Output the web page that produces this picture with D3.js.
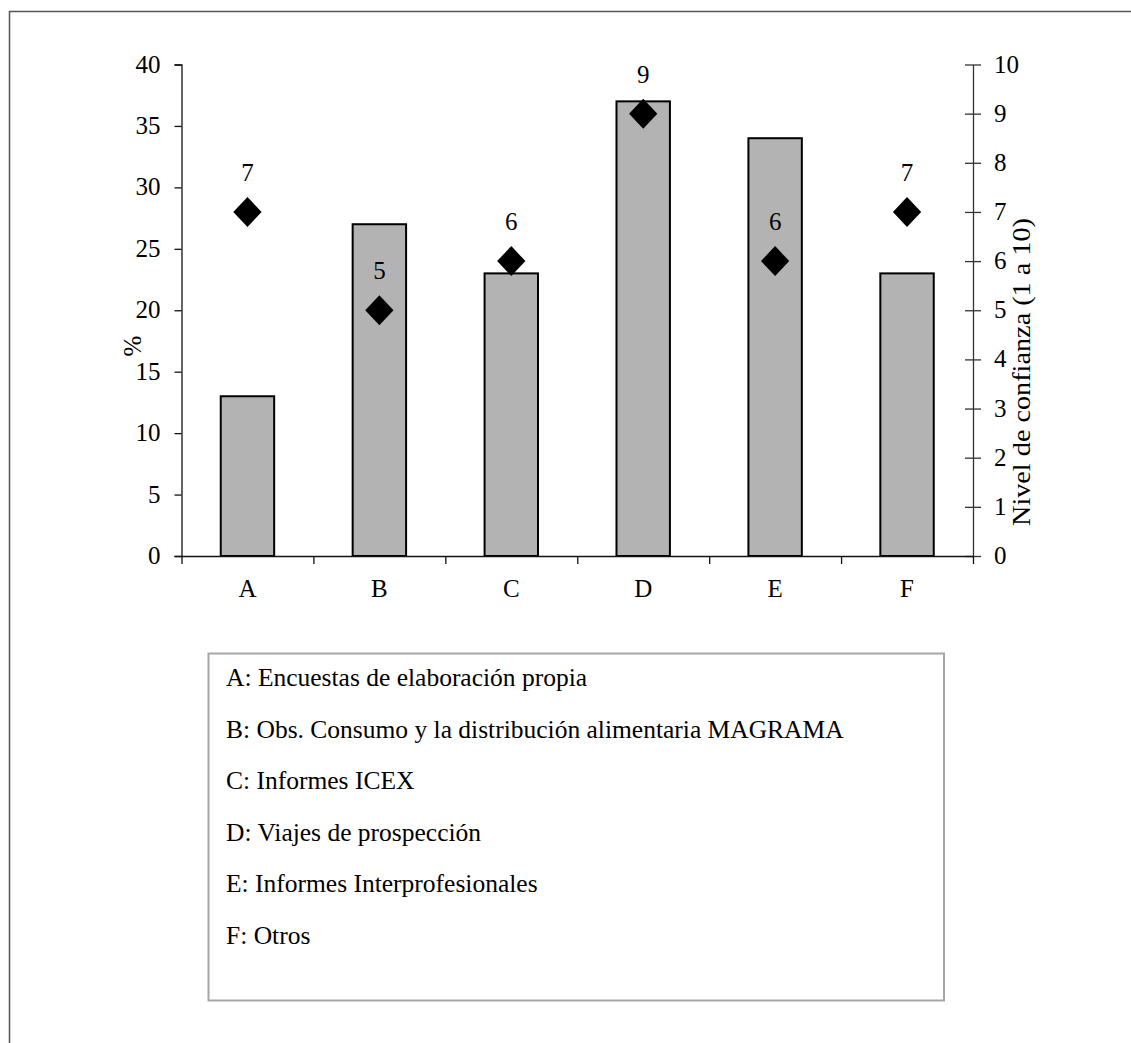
<!DOCTYPE html>
<html>
<head>
<meta charset="utf-8">
<script src="https://cdn.jsdelivr.net/npm/d3@7"></script>
<style>
  html, body { margin: 0; padding: 0; background: #fff; }
  svg { display: block; }
  svg text { font-family: 'Liberation Serif', 'Times New Roman', Times, 'DejaVu Serif', serif !important; fill: #000; }
</style>
</head>
<body>
<svg id="chart" width="1131" height="1043"></svg>
<script>
const categories = ["A", "B", "C", "D", "E", "F"];
const percentValues = [13, 27, 23, 37, 34, 23];
const confidenceValues = [7, 5, 6, 9, 6, 7];
const leftTicks = [0, 5, 10, 15, 20, 25, 30, 35, 40];
const rightTicks = [0, 1, 2, 3, 4, 5, 6, 7, 8, 9, 10];
const legendLines = [
  "A: Encuestas de elaboración propia",
  "B: Obs. Consumo y la distribución alimentaria MAGRAMA",
  "C: Informes ICEX",
  "D: Viajes de prospección",
  "E: Informes Interprofesionales",
  "F: Otros"
];
const leftTitle = "%";
const rightTitle = "Nivel de confianza (1 a 10)";

const svg = d3.select("#chart");
const FS = 25;
const FF = "'Liberation Serif', 'Times New Roman', Times, serif";

// outer frame (only top and left visible)
svg.append("rect").attr("x", 9.5).attr("y", 11.5).attr("width", 1200).attr("height", 1200)
  .attr("fill", "none").attr("stroke", "#555").attr("stroke-width", 1.5);

const plotL = 181.5, plotR = 973, plotT = 64.5, plotB = 556;

const x = d3.scaleBand().domain(categories).range([plotL, plotR]).padding(0);
const xb = d3.scaleLinear().domain([0, categories.length]).range([plotL, plotR]);
const yL = d3.scaleLinear().domain([0, 40]).range([plotB, plotT]);
const yR = d3.scaleLinear().domain([0, 10]).range([plotB, plotT]);

const barW = x.bandwidth() * 0.405;

// bars
svg.append("g").selectAll("rect").data(categories).join("rect")
  .attr("x", (d) => x(d) + x.bandwidth() / 2 - barW / 2)
  .attr("y", (d, i) => yL(percentValues[i]))
  .attr("width", barW)
  .attr("height", (d, i) => yL(0) - yL(percentValues[i]))
  .attr("fill", "#b3b3b3").attr("stroke", "#000").attr("stroke-width", 2);

// left axis
const gL = svg.append("g").attr("transform", `translate(${plotL},0)`)
  .call(d3.axisLeft(yL).tickValues(leftTicks).tickSize(7).tickPadding(14));
gL.attr("font-family", FF);
gL.select(".domain").attr("stroke", "#111").attr("stroke-width", 1.3);
gL.selectAll(".tick line").attr("stroke", "#111").attr("stroke-width", 1.3);
gL.selectAll(".tick text").attr("font-size", FS).attr("fill", "#000").attr("dy", "0.3em");

// right axis with crossing ticks
const gR = svg.append("g").attr("transform", `translate(${plotR},0)`)
  .call(d3.axisRight(yR).tickValues(rightTicks).tickSize(8).tickPadding(13).tickSizeOuter(0));
gR.attr("font-family", FF);
gR.select(".domain").attr("stroke", "#333").attr("stroke-width", 1.3);
gR.selectAll(".tick line").attr("x1", -8).attr("stroke", "#333").attr("stroke-width", 1.3);
gR.selectAll(".tick text").attr("font-size", FS).attr("fill", "#000").attr("dy", "0.3em");

// bottom axis (boundary ticks)
const gB = svg.append("g").attr("transform", `translate(0,${plotB})`)
  .call(d3.axisBottom(xb).tickValues(d3.range(categories.length + 1)).tickSize(8).tickSizeOuter(0).tickFormat(""));
gB.select(".domain").attr("stroke", "#111").attr("stroke-width", 1.3);
gB.selectAll(".tick line").attr("stroke", "#111").attr("stroke-width", 1.3);

// category labels
svg.append("g").attr("font-family", FF).selectAll("text").data(categories).join("text")
  .attr("x", (d) => x(d) + x.bandwidth() / 2)
  .attr("y", 597)
  .attr("text-anchor", "middle")
  .attr("font-size", FS)
  .text((d) => d);

// diamonds
const diamond = d3.symbol().type(d3.symbolSquare).size(400);
svg.append("g").selectAll("path").data(categories).join("path")
  .attr("d", diamond)
  .attr("transform", (d, i) => `translate(${x(d) + x.bandwidth() / 2},${yR(confidenceValues[i])}) scale(1,1.06) rotate(45)`)
  .attr("fill", "#000");

// diamond labels
svg.append("g").attr("font-family", FF).selectAll("text").data(categories).join("text")
  .attr("x", (d) => x(d) + x.bandwidth() / 2)
  .attr("y", (d, i) => yR(confidenceValues[i]) - 31)
  .attr("text-anchor", "middle")
  .attr("font-size", FS)
  .attr("fill", "#222")
  .text((d, i) => confidenceValues[i]);

// axis titles
svg.append("text")
  .attr("font-family", FF)
  .attr("transform", "translate(141,346) rotate(-90)")
  .attr("text-anchor", "middle")
  .attr("font-size", FS)
  .text(leftTitle);
svg.append("text")
  .attr("font-family", FF)
  .attr("transform", "translate(1030,372) rotate(-90)")
  .attr("text-anchor", "middle")
  .attr("font-size", 26)
  .attr("textLength", 308)
  .attr("lengthAdjust", "spacingAndGlyphs")
  .text(rightTitle);

// legend box
svg.append("rect").attr("x", 208.5).attr("y", 653.5).attr("width", 735.5).attr("height", 347)
  .attr("fill", "#fff").attr("stroke", "#a6a6a6").attr("stroke-width", 2);
svg.append("g").attr("font-family", FF).selectAll("text").data(legendLines).join("text")
  .attr("x", 226)
  .attr("y", (d, i) => 686 + i * 51.6)
  .attr("font-size", 25.5)
  .text((d) => d);
</script>
</body>
</html>
